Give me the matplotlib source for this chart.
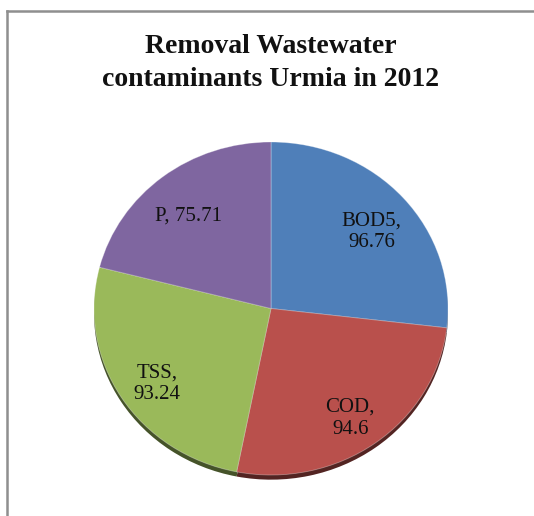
import matplotlib
matplotlib.use("Agg")
import matplotlib.pyplot as plt
from matplotlib.lines import Line2D

# Removal efficiency (%) per contaminant
contaminants = ["BOD5", "COD", "TSS", "P"]
removal = [96.76, 94.6, 93.24, 75.71]
label_sep = [",\n", ",\n", ",\n", ", "]
colors = ["#4F7FB9", "#B9504C", "#9AB95A", "#7F66A0"]
title = "Removal Wastewater\ncontaminants Urmia in 2012"

W, H = 534, 516
fig = plt.figure(figsize=(W / 100, H / 100), dpi=100)
fig.patch.set_facecolor("white")

# outer chart border (left and top edges visible)
fig.add_artist(Line2D([7 / W, 7 / W], [0, 1 - 11 / H], color="#8F8F8F", lw=1.8,
                      transform=fig.transFigure))
fig.add_artist(Line2D([7 / W, 1], [1 - 11 / H, 1 - 11 / H], color="#8F8F8F", lw=1.8,
                      transform=fig.transFigure))

fig.text(271 / W, 1 - 63 / H, title, ha="center", va="center",
         fontsize=20, fontweight="bold", family="Liberation Serif",
         linespacing=1.4, color="#111111")

# pie area (pixel box of the disc)
x0, x1 = 94, 448
y0, y1 = 142, 480
ax = fig.add_axes([x0 / W, 1 - y1 / H, (x1 - x0) / W, (y1 - y0) / H])


def darken(c, f):
    r, g, b = matplotlib.colors.to_rgb(c)
    return (r * f, g * f, b * f)


# rim / thickness drawn below the top face
ax.pie(removal, startangle=90, counterclock=False, radius=1.0,
       center=(0, -0.028), colors=[darken(c, 0.45) for c in colors],
       wedgeprops=dict(linewidth=0))

labels = [f"{n}{s}{v:g}" for n, s, v in zip(contaminants, label_sep, removal)]
wedges, texts = ax.pie(removal, labels=labels, startangle=90, counterclock=False,
                       radius=1.0, colors=colors, labeldistance=0.76,
                       wedgeprops=dict(linewidth=0.6, edgecolor=(1, 1, 1, 0.35)),
                       textprops=dict(ha="center", va="center", fontsize=15,
                                      family="Liberation Serif", color="#111111",
                                      multialignment="center", linespacing=1.2))
for t in texts:
    tx, ty = t.get_position()
    t.set_position((tx, ty - 0.045))

ax.set_aspect("auto")
ax.set_xlim(-1.0, 1.0)
ax.set_ylim(-1.03, 1.0)
ax.axis("off")

fig.savefig("out.png", dpi=100, facecolor="white")
